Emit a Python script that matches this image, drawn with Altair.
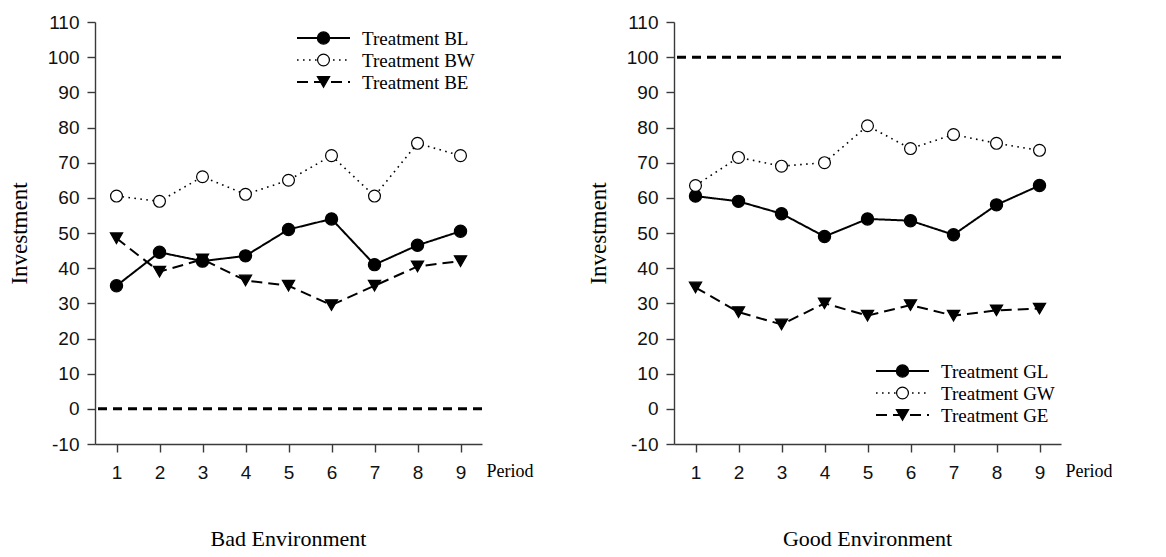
import altair as alt
import pandas as pd

# ---------------- data ----------------
periods = [1, 2, 3, 4, 5, 6, 7, 8, 9]
y_ticks = [-10, 0, 10, 20, 30, 40, 50, 60, 70, 80, 90, 100, 110]

bad_series = ["Treatment BL", "Treatment BW", "Treatment BE"]
bad_BL = [35, 44.5, 42, 43.5, 51, 54, 41, 46.5, 50.5]
bad_BW = [60.5, 59, 66, 61, 65, 72, 60.5, 75.5, 72]
bad_BE = [48.5, 39, 42.5, 36.5, 35, 29.5, 35, 40.5, 42]
bad_reference = 0

good_series = ["Treatment GL", "Treatment GW", "Treatment GE"]
good_GL = [60.5, 59, 55.5, 49, 54, 53.5, 49.5, 58, 63.5]
good_GW = [63.5, 71.5, 69, 70, 80.5, 74, 78, 75.5, 73.5]
good_GE = [34.5, 27.5, 24, 30, 26.5, 29.5, 26.5, 28, 28.5]
good_reference = 100

panel_titles = ["Bad Environment", "Good Environment"]

# ---------------- style ----------------
W, H = 387, 422
SERIF = "Liberation Serif"
SANS = "Liberation Sans"
AXIS_COLOR = "#3a3a3a"

STYLES = [
    dict(dash=[1, 0], width=2.0, shape="circle", fill="black", size=150),
    dict(dash=[1.6, 4.4], width=1.6, shape="circle", fill="white", size=140),
    dict(dash=[11, 6], width=2.0, shape="triangle-down", fill="black", size=150),
]


def panel(names, series_values, ref_value, title, legend_top):
    rows = []
    for name, vals in zip(names, series_values):
        for p, v in zip(periods, vals):
            rows.append({"series": name, "period": p, "value": v})
    df = pd.DataFrame(rows)

    x = alt.X(
        "period:Q",
        scale=alt.Scale(domain=[0.5, 9.5], nice=False, zero=False),
        axis=alt.Axis(
            values=periods, labelExpr="'' + datum.value", title="Period", titleX=W + 4, titleY=27,
            titleAlign="left", titleBaseline="middle", titleAngle=0,
            titleFont=SERIF, titleFontSize=18, titleFontWeight="normal", titleColor="black",
            labelFont=SANS, labelFontSize=19, labelColor="#111", labelPadding=11,
            labelOverlap=False,
            tickSize=8, tickColor=AXIS_COLOR, domainColor=AXIS_COLOR,
            domainWidth=1.4, tickWidth=1.4, grid=False,
        ),
    )
    y = alt.Y(
        "value:Q",
        scale=alt.Scale(domain=[-10, 110], nice=False, zero=False),
        axis=alt.Axis(
            values=y_ticks, labelExpr="'' + datum.value", title="Investment", titleX=-76, titleY=H / 2,
            titleAngle=-90, titleAlign="center", titleBaseline="middle",
            titleFont=SERIF, titleFontSize=23, titleFontWeight="normal", titleColor="black",
            labelFont=SANS, labelFontSize=19, labelColor="#111", labelPadding=8,
            labelOverlap=False, labelBound=False, labelFlush=False,
            tickSize=8, tickColor=AXIS_COLOR, domainColor=AXIS_COLOR,
            domainWidth=1.4, tickWidth=1.4, grid=False,
        ),
    )

    base = alt.Chart(df)
    layers = []
    for name, st in zip(names, STYLES):
        layers.append(
            base.transform_filter(alt.datum.series == name)
            .mark_line(color="black", strokeWidth=st["width"], strokeDash=st["dash"])
            .encode(x=x, y=y)
        )
    for name, st in zip(names, STYLES):
        layers.append(
            base.transform_filter(alt.datum.series == name)
            .mark_point(shape=st["shape"], filled=True, fill=st["fill"], stroke="black",
                        strokeWidth=1.2, size=st["size"], opacity=1)
            .encode(x=x, y=y)
        )
    ref = (
        alt.Chart(pd.DataFrame({"value": [ref_value]}))
        .mark_rule(color="black", strokeWidth=3, strokeDash=[9, 6])
        .encode(y=y)
    )
    layers.append(ref)

    # legend
    for i, (name, st) in enumerate(zip(names, STYLES)):
        ly = legend_top + 22 * i
        src = alt.Chart(pd.DataFrame({"label": [name]}))
        layers.append(
            src.mark_rule(color="black", strokeWidth=st["width"], strokeDash=st["dash"])
            .encode(x=alt.value(202), x2=alt.value(255), y=alt.value(ly))
        )
        layers.append(
            src.mark_point(shape=st["shape"], filled=True, fill=st["fill"], stroke="black",
                           strokeWidth=1.2, size=st["size"], opacity=1)
            .encode(x=alt.value(228.5), y=alt.value(ly))
        )
        layers.append(
            src.mark_text(align="left", baseline="middle", font=SERIF, fontSize=19, color="black")
            .encode(x=alt.value(267), y=alt.value(ly + 1), text="label:N")
        )

    return alt.layer(*layers).properties(
        width=W,
        height=H,
        title=alt.TitleParams(
            text=title, orient="bottom", anchor="middle", font=SERIF, fontSize=22,
            fontWeight="normal", color="black", offset=47,
        ),
    )


left = panel(bad_series, [bad_BL, bad_BW, bad_BE], bad_reference, panel_titles[0], 16)
right = panel(good_series, [good_GL, good_GW, good_GE], good_reference, panel_titles[1], 349)

chart = (
    alt.hconcat(left, right, spacing=54)
    .properties(padding={"left": 0, "top": 5, "right": 0, "bottom": 0})
    .configure_view(stroke=None)
    .configure_axis(labelOverlap=False)
)

chart.save("out.html", embed_options={"renderer": "svg", "actions": False})
